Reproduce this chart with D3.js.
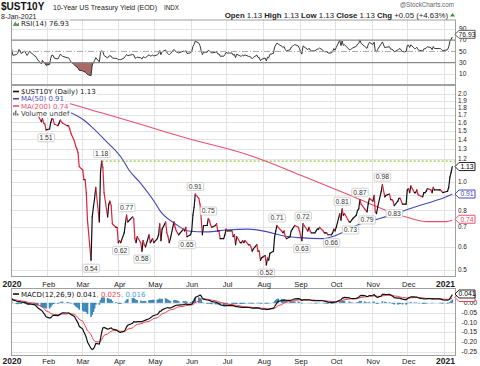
<!DOCTYPE html>
<html>
<head>
<meta charset="utf-8">
<script src="https://cdn.jsdelivr.net/npm/d3@7"></script>
<style>
body{margin:0;background:#fff}
svg{display:block;font-family:"Liberation Sans",Arial,sans-serif}
</style>
</head>
<body>
<svg id="chart" width="480" height="366"></svg>
<script>
// daily closes of $UST10Y
var closes = [
["2020-01-02",1.88],["2020-01-03",1.80],["2020-01-06",1.81],["2020-01-07",1.82],["2020-01-08",1.87],["2020-01-09",1.86],["2020-01-10",1.82],["2020-01-13",1.85],["2020-01-14",1.82],["2020-01-15",1.79],["2020-01-16",1.81],["2020-01-17",1.84],["2020-01-21",1.78],["2020-01-22",1.77],["2020-01-23",1.74],["2020-01-24",1.70],["2020-01-27",1.61],["2020-01-28",1.65],["2020-01-29",1.59],["2020-01-30",1.58],["2020-01-31",1.51],
["2020-02-03",1.52],["2020-02-04",1.60],["2020-02-05",1.65],["2020-02-06",1.64],["2020-02-07",1.58],["2020-02-10",1.56],["2020-02-11",1.59],["2020-02-12",1.63],["2020-02-13",1.61],["2020-02-14",1.59],["2020-02-18",1.56],["2020-02-19",1.56],["2020-02-20",1.52],["2020-02-21",1.47],["2020-02-24",1.38],["2020-02-25",1.33],["2020-02-26",1.30],["2020-02-27",1.26],["2020-02-28",1.13],
["2020-03-02",1.10],["2020-03-03",1.02],["2020-03-04",1.02],["2020-03-05",0.92],["2020-03-06",0.74],["2020-03-09",0.54],["2020-03-10",0.76],["2020-03-11",0.82],["2020-03-12",0.88],["2020-03-13",0.96],["2020-03-16",0.73],["2020-03-17",1.08],["2020-03-18",1.18],["2020-03-19",1.12],["2020-03-20",0.92],["2020-03-23",0.76],["2020-03-24",0.84],["2020-03-25",0.86],["2020-03-26",0.83],["2020-03-27",0.72],["2020-03-30",0.70],["2020-03-31",0.70],
["2020-04-01",0.62],["2020-04-02",0.63],["2020-04-03",0.62],["2020-04-06",0.67],["2020-04-07",0.72],["2020-04-08",0.77],["2020-04-09",0.73],["2020-04-13",0.76],["2020-04-14",0.75],["2020-04-15",0.64],["2020-04-16",0.62],["2020-04-17",0.65],["2020-04-20",0.62],["2020-04-21",0.58],["2020-04-22",0.63],["2020-04-23",0.61],["2020-04-24",0.60],["2020-04-27",0.66],["2020-04-28",0.62],["2020-04-29",0.63],["2020-04-30",0.64],
["2020-05-01",0.62],["2020-05-04",0.64],["2020-05-05",0.66],["2020-05-06",0.72],["2020-05-07",0.63],["2020-05-08",0.69],["2020-05-11",0.73],["2020-05-12",0.67],["2020-05-13",0.65],["2020-05-14",0.62],["2020-05-15",0.64],["2020-05-18",0.73],["2020-05-19",0.70],["2020-05-20",0.68],["2020-05-21",0.67],["2020-05-22",0.66],["2020-05-26",0.69],["2020-05-27",0.68],["2020-05-28",0.70],["2020-05-29",0.65],
["2020-06-01",0.66],["2020-06-02",0.68],["2020-06-03",0.77],["2020-06-04",0.82],["2020-06-05",0.91],["2020-06-08",0.88],["2020-06-09",0.84],["2020-06-10",0.75],["2020-06-11",0.66],["2020-06-12",0.71],["2020-06-15",0.71],["2020-06-16",0.75],["2020-06-17",0.74],["2020-06-18",0.71],["2020-06-19",0.70],["2020-06-22",0.71],["2020-06-23",0.72],["2020-06-24",0.68],["2020-06-25",0.68],["2020-06-26",0.64],["2020-06-29",0.64],["2020-06-30",0.66],
["2020-07-01",0.69],["2020-07-02",0.68],["2020-07-06",0.68],["2020-07-07",0.65],["2020-07-08",0.66],["2020-07-09",0.61],["2020-07-10",0.65],["2020-07-13",0.62],["2020-07-14",0.62],["2020-07-15",0.63],["2020-07-16",0.62],["2020-07-17",0.63],["2020-07-20",0.61],["2020-07-21",0.61],["2020-07-22",0.60],["2020-07-23",0.58],["2020-07-24",0.59],["2020-07-27",0.61],["2020-07-28",0.58],["2020-07-29",0.58],["2020-07-30",0.54],["2020-07-31",0.55],
["2020-08-03",0.56],["2020-08-04",0.52],["2020-08-05",0.55],["2020-08-06",0.54],["2020-08-07",0.57],["2020-08-10",0.58],["2020-08-11",0.65],["2020-08-12",0.68],["2020-08-13",0.71],["2020-08-14",0.70],["2020-08-17",0.68],["2020-08-18",0.67],["2020-08-19",0.68],["2020-08-20",0.65],["2020-08-21",0.64],["2020-08-24",0.65],["2020-08-25",0.68],["2020-08-26",0.69],["2020-08-27",0.70],["2020-08-28",0.71],["2020-08-31",0.70],
["2020-09-01",0.68],["2020-09-02",0.65],["2020-09-03",0.63],["2020-09-04",0.72],["2020-09-08",0.68],["2020-09-09",0.70],["2020-09-10",0.68],["2020-09-11",0.67],["2020-09-14",0.67],["2020-09-15",0.68],["2020-09-16",0.69],["2020-09-17",0.69],["2020-09-18",0.70],["2020-09-21",0.68],["2020-09-22",0.67],["2020-09-23",0.67],["2020-09-24",0.67],["2020-09-25",0.66],["2020-09-28",0.66],["2020-09-29",0.67],["2020-09-30",0.69],
["2020-10-01",0.68],["2020-10-02",0.70],["2020-10-05",0.78],["2020-10-06",0.74],["2020-10-07",0.81],["2020-10-08",0.77],["2020-10-09",0.78],["2020-10-13",0.73],["2020-10-14",0.73],["2020-10-15",0.74],["2020-10-16",0.75],["2020-10-19",0.77],["2020-10-20",0.80],["2020-10-21",0.81],["2020-10-22",0.87],["2020-10-23",0.84],["2020-10-26",0.81],["2020-10-27",0.80],["2020-10-28",0.79],["2020-10-29",0.84],["2020-10-30",0.88],
["2020-11-02",0.86],["2020-11-03",0.90],["2020-11-04",0.79],["2020-11-05",0.78],["2020-11-06",0.82],["2020-11-09",0.93],["2020-11-10",0.98],["2020-11-12",0.89],["2020-11-13",0.90],["2020-11-16",0.91],["2020-11-17",0.87],["2020-11-18",0.87],["2020-11-19",0.86],["2020-11-20",0.83],["2020-11-23",0.86],["2020-11-24",0.88],["2020-11-25",0.88],["2020-11-27",0.84],["2020-11-30",0.84],
["2020-12-01",0.94],["2020-12-02",0.95],["2020-12-03",0.92],["2020-12-04",0.97],["2020-12-07",0.92],["2020-12-08",0.92],["2020-12-09",0.94],["2020-12-10",0.91],["2020-12-11",0.90],["2020-12-14",0.89],["2020-12-15",0.92],["2020-12-16",0.92],["2020-12-17",0.93],["2020-12-18",0.95],["2020-12-21",0.94],["2020-12-22",0.92],["2020-12-23",0.96],["2020-12-24",0.94],["2020-12-28",0.94],["2020-12-29",0.94],["2020-12-30",0.93],["2020-12-31",0.92],
["2021-01-04",0.93],["2021-01-05",0.96],["2021-01-06",1.04],["2021-01-07",1.08],["2021-01-08",1.13]
];

// moving averages, read at a few dates
var ma50 = [
["2020-01-02",1.84],["2020-01-20",1.82],["2020-02-13",1.77],["2020-03-01",1.65],["2020-03-10",1.54],["2020-03-21",1.39],["2020-04-05",1.19],["2020-04-10",1.10],["2020-04-19",1.00],["2020-05-02",0.85],["2020-05-06",0.80],["2020-05-19",0.72],["2020-05-30",0.68],["2020-06-15",0.675],["2020-07-01",0.685],["2020-07-20",0.69],["2020-08-05",0.675],["2020-08-18",0.655],["2020-09-01",0.645],["2020-09-20",0.64],["2020-10-01",0.655],["2020-10-10",0.68],["2020-10-21",0.715],["2020-11-05",0.745],["2020-11-19",0.775],["2020-12-03",0.81],["2020-12-17",0.845],["2021-01-03",0.89],["2021-01-08",0.91]
];
var ma200 = [
["2020-01-02",2.05],["2020-02-11",1.90],["2020-03-17",1.73],["2020-04-19",1.58],["2020-05-30",1.41],["2020-07-14",1.26],["2020-08-02",1.186],["2020-09-02",1.055],["2020-09-27",0.96],["2020-10-22",0.872],["2020-11-19",0.784],["2020-12-03",0.753],["2020-12-17",0.732],["2021-01-03",0.732],["2021-01-08",0.74]
];

// peak / trough annotations ("a" above, "b" below)
var notes = [
["2020-01-31","b"],["2020-03-09","b"],["2020-03-18","a"],["2020-04-03","b"],["2020-04-08","a"],["2020-04-21","b"],["2020-05-29","b"],["2020-06-05","a"],["2020-06-16","a"],["2020-08-04","b"],["2020-08-13","a"],["2020-09-04","a"],["2020-09-03","b"],["2020-09-28","b"],["2020-10-07","a"],["2020-10-14","b"],["2020-10-22","a"],["2020-10-28","b"],["2020-11-10","a"],["2020-11-20","b"]
];

var priceTicks = [0.5,0.6,0.7,0.8,1.0,1.2,1.3,1.4,1.5,1.6,1.7,1.8,1.9,2.0];
var rsiTicks = [10,30,50,70,90];
var macdTicks = [0,-0.05,-0.10,-0.15,-0.20,-0.25];
var monthTicks = ["2020-01-01","2020-02-01","2020-03-01","2020-04-01","2020-05-01","2020-06-01","2020-07-01","2020-08-01","2020-09-01","2020-10-01","2020-11-01","2020-12-01","2021-01-01"];
var monthNames = ["2020","Feb","Mar","Apr","May","Jun","Jul","Aug","Sep","Oct","Nov","Dec","2021"];

var parse = d3.timeParse("%Y-%m-%d");
var svg = d3.select("#chart");

var L = 11, R = 456;
var rsiTop = 19.5, rsiBot = 85;
var pTop = 85, pBot = 277;
var mTop = 288, mBot = 356;

var x = d3.scaleTime().domain([parse("2020-01-01"), parse("2021-01-01")]).range([10.5, 444]);
var yP = d3.scaleLog().domain([0.473, 2.15]).range([pBot, pTop]);
var yR = d3.scaleLinear().domain([-9.5, 106.6]).range([rsiBot, rsiTop]);
var yM = d3.scaleLinear().domain([-0.271, 0.0755]).range([mBot, mTop]);

var px = closes.map(function(d){ return {date: parse(d[0]), v: d[1]}; });
var vals = px.map(function(d){ return d.v; });

// RSI(14), Wilder smoothing
var ag = 0.013, al = 0.011;
var rsi = vals.map(function(v, i) {
	if (i > 0) {
		var ch = v - vals[i-1];
		ag = (ag*13 + Math.max(ch, 0))/14;
		al = (al*13 + Math.max(-ch, 0))/14;
	}
	return 100 - 100/(1 + ag/al);
});

// MACD(12,26,9); the slow average starts a little lower, as yields rose into Jan 2020
function ema(arr, n, seed) {
	var k = 2/(n+1), e = seed;
	return arr.map(function(v){ e = v*k + e*(1-k); return e; });
}
var e12 = ema(vals, 12, 1.88), e26 = ema(vals, 26, 1.855);
var macd = e12.map(function(v,i){ return v - e26[i]; });
var sig = ema(macd, 9, 0.015);
var hist = macd.map(function(v,i){ return v - sig[i]; });

// clip paths
var defs = svg.append("defs");
[["cR", rsiTop, rsiBot], ["cP", pTop, pBot], ["cM", mTop, mBot]].forEach(function(c) {
	defs.append("clipPath").attr("id", c[0]).append("rect")
		.attr("x", L).attr("y", c[1]).attr("width", R-L).attr("height", c[2]-c[1]);
});
defs.append("clipPath").attr("id", "cLow").append("rect")
	.attr("x", L).attr("y", yR(30)).attr("width", R-L).attr("height", rsiBot - yR(30));
defs.append("clipPath").attr("id", "cHigh").append("rect")
	.attr("x", L).attr("y", rsiTop).attr("width", R-L).attr("height", yR(70) - rsiTop);

// grids
function vgrid(top, bot) {
	svg.append("g").selectAll("line").data(monthTicks).enter().append("line")
		.attr("x1", function(d){ return Math.round(x(parse(d)))+0.5; })
		.attr("x2", function(d){ return Math.round(x(parse(d)))+0.5; })
		.attr("y1", top).attr("y2", bot)
		.attr("stroke", "#e3e3e3");
}
vgrid(rsiTop, rsiBot); vgrid(pTop, pBot); vgrid(mTop, mBot);

function hgrid(ticks, y) {
	svg.append("g").selectAll("line").data(ticks).enter().append("line")
		.attr("x1", L).attr("x2", R)
		.attr("y1", function(d){ return Math.round(y(d))+0.5; })
		.attr("y2", function(d){ return Math.round(y(d))+0.5; })
		.attr("stroke", "#e3e3e3");
}
hgrid(priceTicks.concat([0.9,1.1]), yP);
hgrid([10,90], yR);
hgrid(macdTicks, yM);

// ---- RSI panel
var rsiG = svg.append("g").attr("clip-path", "url(#cR)");
rsiG.append("path")
	.attr("d", d3.area().x(function(d){ return x(d.date); }).y0(yR(30)).y1(function(d,i){ return yR(rsi[i]); })(px))
	.attr("fill", "#a86a66").attr("clip-path", "url(#cLow)");
rsiG.append("path")
	.attr("d", d3.area().x(function(d){ return x(d.date); }).y0(yR(70)).y1(function(d,i){ return yR(rsi[i]); })(px))
	.attr("fill", "#8fc48f").attr("clip-path", "url(#cHigh)");
[30,70].forEach(function(t) {
	svg.append("line").attr("x1", L).attr("x2", R).attr("y1", yR(t)).attr("y2", yR(t))
		.attr("stroke", "#8a8a8a").attr("stroke-width", 1.2);
});
svg.append("line").attr("x1", L).attr("x2", R).attr("y1", yR(50)).attr("y2", yR(50))
	.attr("stroke", "#a8a8a8").attr("stroke-dasharray", "6,2,1,2");
rsiG.append("path")
	.attr("d", d3.line().x(function(d){ return x(d.date); }).y(function(d,i){ return yR(rsi[i]); })(px))
	.attr("fill", "none").attr("stroke", "#222").attr("stroke-width", 0.9);

// ---- price panel
var pG = svg.append("g").attr("clip-path", "url(#cP)");
pG.append("line")
	.attr("x1", x(parse("2020-03-18"))).attr("x2", R)
	.attr("y1", yP(1.18)).attr("y2", yP(1.18))
	.attr("stroke", "#8cc63f").attr("stroke-width", 1.3).attr("stroke-dasharray", "2,2");

var maLine = d3.line().curve(d3.curveMonotoneX)
	.x(function(d){ return x(parse(d[0])); }).y(function(d){ return yP(d[1]); });
pG.append("path").attr("d", maLine(ma200)).attr("fill", "none").attr("stroke", "#e8506e").attr("stroke-width", 1.1);
pG.append("path").attr("d", maLine(ma50)).attr("fill", "none").attr("stroke", "#4848b8").attr("stroke-width", 1.1);

var segs = px.slice(1).map(function(d, i){ return [px[i], d]; });
pG.selectAll("line.seg").data(segs).enter().append("line").attr("class", "seg")
	.attr("x1", function(d){ return x(d[0].date); })
	.attr("y1", function(d){ return yP(d[0].v); })
	.attr("x2", function(d){ return x(d[1].date); })
	.attr("y2", function(d){ return yP(d[1].v); })
	.attr("stroke", function(d){ return d[1].v >= d[0].v ? "#111" : "#e0203c"; })
	.attr("stroke-width", 1.2).attr("stroke-linecap", "round");

// annotations
var byDate = {};
closes.forEach(function(d){ byDate[d[0]] = d[1]; });
var noteG = svg.append("g");
notes.forEach(function(n) {
	var v = byDate[n[0]];
	var cx = x(parse(n[0])), cy = yP(v) + (n[1] === "a" ? -7.5 : 8);
	var t = noteG.append("text").attr("x", cx).attr("y", cy + 2.3)
		.attr("text-anchor", "middle").attr("font-size", 6.8).attr("fill", "#333")
		.text(v.toFixed(2));
	var bb = t.node().getBBox();
	noteG.insert("rect", "text").attr("x", bb.x - 1.5).attr("y", cy - 4).attr("width", bb.width + 3).attr("height", 8)
		.attr("rx", 1).attr("fill", "#fff").attr("stroke", "#c4c4c4").attr("stroke-width", 0.8);
});

// ---- MACD panel
var mG = svg.append("g").attr("clip-path", "url(#cM)");
mG.selectAll("rect").data(px).enter().append("rect")
	.attr("x", function(d){ return x(d.date) - 0.85; })
	.attr("width", 1.7)
	.attr("y", function(d,i){ return Math.min(yM(hist[i]), yM(0)); })
	.attr("height", function(d,i){ return Math.abs(yM(hist[i]) - yM(0)); })
	.attr("fill", "#3c88b8");
mG.append("path")
	.attr("d", d3.line().x(function(d){ return x(d.date); }).y(function(d,i){ return yM(sig[i]); })(px))
	.attr("fill", "none").attr("stroke", "#f0404a").attr("stroke-width", 1);
mG.append("path")
	.attr("d", d3.line().x(function(d){ return x(d.date); }).y(function(d,i){ return yM(macd[i]); })(px))
	.attr("fill", "none").attr("stroke", "#111").attr("stroke-width", 1.2);

// frames
[[rsiTop, rsiBot], [pTop, pBot], [mTop, mBot]].forEach(function(p) {
	svg.append("rect").attr("x", L + 0.5).attr("y", p[0] + 0.5).attr("width", R - L - 1).attr("height", p[1] - p[0] - 1)
		.attr("fill", "none").attr("stroke", "#a0a0a0");
});

// ---- axis labels
function rightLabels(ticks, y, fmt, anchor, ax, fs) {
	svg.append("g").selectAll("text").data(ticks).enter().append("text")
		.attr("x", ax).attr("y", function(d){ return y(d) + 2.2; })
		.attr("text-anchor", anchor).attr("font-size", fs).attr("fill", "#222")
		.text(fmt);
}
rightLabels(priceTicks, yP, d3.format(".1f"), "start", 458, 6.4);
rightLabels(rsiTicks, yR, d3.format("d"), "start", 459, 6.6);
rightLabels(macdTicks, yM, function(d){ return d3.format(".2f")(d).replace("−", "-"); }, "end", 477, 6.8);

function monthLabels(yy) {
	svg.append("g").selectAll("text").data(monthTicks).enter().append("text")
		.attr("x", function(d){ return x(parse(d)) + 1.5; }).attr("y", yy)
		.attr("text-anchor", "middle")
		.attr("font-size", function(d,i){ return (i === 0 || i === 12) ? 8.5 : 7.5; })
		.attr("font-weight", function(d,i){ return (i === 0 || i === 12) ? "bold" : "normal"; })
		.attr("fill", "#222")
		.text(function(d,i){ return monthNames[i]; });
}
monthLabels(287); monthLabels(363.5);

// right-hand value tags
function tag(yc, txt, col, tcol) {
	var g = svg.append("g");
	g.append("path").attr("d", "M455," + yc + "L459," + (yc-4) + "L475," + (yc-4) + "L475," + (yc+4) + "L459," + (yc+4) + "Z")
		.attr("fill", "#fff").attr("stroke", col).attr("stroke-width", 1);
	if (txt) g.append("text").attr("x", 467).attr("y", yc + 2.3).attr("text-anchor", "middle")
		.attr("font-size", 6.8).attr("fill", tcol).text(txt);
}
tag(34.3, "76.93", "#555", "#222");
tag(yP(1.13), "1.13", "#222", "#000");
tag(yP(0.91), "0.91", "#4848b8", "#4848b8");
tag(yP(0.74) - 1, "0.74", "#e8506e", "#e8506e");
tag(297.5, "", "#f0404a", "#f0404a");
tag(294, "0.041", "#222", "#000");

// ---- legends
function legendLine(xx, yy, parts) {
	var t = svg.append("text").attr("x", xx).attr("y", yy).attr("font-size", 7).attr("font-family", "'DejaVu Sans',sans-serif");
	parts.forEach(function(p){ t.append("tspan").attr("fill", p[1]).text(p[0]); });
	var bb = t.node().getBBox();
	svg.insert("rect", function(){ return t.node(); })
		.attr("x", L + 1).attr("y", yy - 6.5).attr("width", bb.x + bb.width - L).attr("height", 7.4).attr("fill", "#fff");
	return t;
}
legendLine(21, 26, [["RSI(14) 76.93", "#222"]]);
svg.append("path").attr("d", "M13,26L15,21.5L17,24L19,22.5L19,26Z").attr("fill", "#5a9a5a");

legendLine(21, 94, [["$UST10Y (Daily) 1.13", "#111"]]);
legendLine(21, 101.3, [["MA(50) 0.91", "#4848b8"]]);
legendLine(21, 108.5, [["MA(200) 0.74", "#e8506e"]]);
legendLine(21, 115.7, [["Volume undef", "#444"]]);
[[94, "#111"], [101.3, "#4848b8"], [108.5, "#e8506e"]].forEach(function(s) {
	svg.append("line").attr("x1", 13).attr("x2", 19).attr("y1", s[0] - 2.5).attr("y2", s[0] - 2.5)
		.attr("stroke", s[1]).attr("stroke-width", 1.6);
});
svg.append("path").attr("d", "M13,115.5v-3h1.5v3M15,115.5v-5h1.5v5M17,115.5v-2h1.5v2").attr("fill", "#777");

legendLine(21, 296.5, [["MACD(12,26,9) 0.041", "#111"], [", 0.025", "#f0404a"], [", 0.016", "#4aa0d8"]]);
svg.append("line").attr("x1", 13).attr("x2", 19).attr("y1", 294).attr("y2", 294).attr("stroke", "#111").attr("stroke-width", 1.6);

// ---- header
svg.append("text").attr("x", 1).attr("y", 10).attr("font-size", 10).attr("font-weight", "bold").attr("fill", "#111").text("$UST10Y");
svg.append("text").attr("x", 53).attr("y", 10).attr("font-size", 7.5).attr("fill", "#222")
	.attr("textLength", 104).attr("lengthAdjust", "spacingAndGlyphs")
	.text("10-Year US Treasury Yield (EOD)");
svg.append("text").attr("x", 164).attr("y", 10).attr("font-size", 6.3).attr("fill", "#222").text("INDX");
svg.append("text").attr("x", 1).attr("y", 18.6).attr("font-size", 7).attr("fill", "#222").text("8-Jan-2021");
svg.append("text").attr("x", 454).attr("y", 6.5).attr("text-anchor", "end").attr("font-size", 6.3).attr("fill", "#666").text("@StockCharts.com");

var hdr = svg.append("text").attr("x", 448).attr("y", 17.5).attr("text-anchor", "end").attr("font-size", 7.8).attr("fill", "#222");
[["Open", 1], [" 1.13 ", 0], ["High", 1], [" 1.13 ", 0], ["Low", 1], [" 1.13 ", 0], ["Close", 1], [" 1.13 ", 0], ["Chg", 1], [" +0.05 (+4.63%)", 0]].forEach(function(p) {
	hdr.append("tspan").attr("font-weight", p[1] ? "bold" : "normal").text(p[0]);
});
svg.append("path").attr("d", "M450,16.5L452.5,13L455,16.5Z").attr("fill", "#2a9a2a");
</script>
</body>
</html>
